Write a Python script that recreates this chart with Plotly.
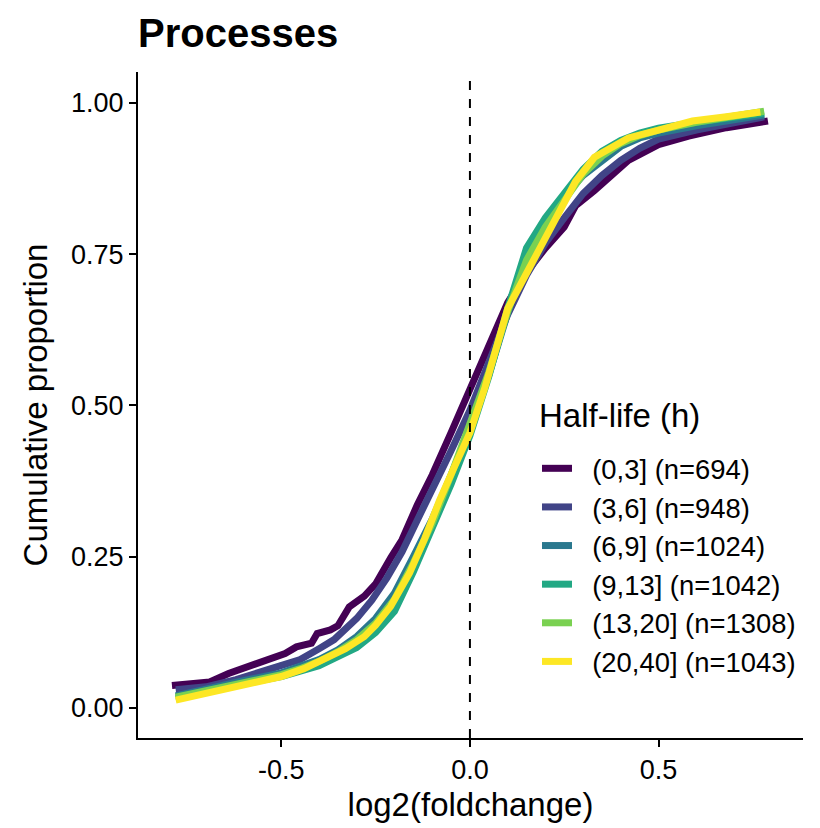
import plotly.graph_objects as go

x_0_3 = [-0.79, -0.69, -0.64, -0.55, -0.49, -0.46, -0.42, -0.405, -0.37, -0.35, -0.32, -0.28, -0.25, -0.21,
         -0.18, -0.14, -0.1, -0.05, 0.0, 0.02, 0.06, 0.1, 0.15, 0.2, 0.25, 0.28, 0.33, 0.37, 0.42, 0.5,
         0.58, 0.68, 0.79]
y_0_3 = [0.037, 0.043, 0.057, 0.077, 0.090, 0.101, 0.107, 0.123, 0.129, 0.136, 0.167, 0.185, 0.205, 0.248,
         0.278, 0.335, 0.385, 0.455, 0.525, 0.560, 0.615, 0.670, 0.720, 0.760, 0.795, 0.830, 0.855, 0.878,
         0.905, 0.931, 0.945, 0.959, 0.970]

x_3_6 = [-0.78, -0.7, -0.62, -0.55, -0.5, -0.45, -0.4, -0.36, -0.3, -0.26, -0.22, -0.18, -0.14, -0.1,
         -0.05, 0.0, 0.05, 0.1, 0.15, 0.2, 0.25, 0.3, 0.35, 0.4, 0.45, 0.5, 0.6, 0.7, 0.78]
y_3_6 = [0.030, 0.035, 0.047, 0.060, 0.068, 0.080, 0.098, 0.113, 0.148, 0.178, 0.215, 0.258, 0.310, 0.360,
         0.425, 0.492, 0.572, 0.650, 0.715, 0.768, 0.810, 0.850, 0.880, 0.905, 0.925, 0.940, 0.955, 0.966,
         0.977]

x_6_9 = [-0.78, -0.7, -0.6, -0.5, -0.45, -0.4, -0.35, -0.3, -0.25, -0.2, -0.15, -0.1, -0.05, 0.0,
         0.05, 0.1, 0.15, 0.2, 0.25, 0.3, 0.35, 0.4, 0.45, 0.5, 0.6, 0.7, 0.78]
y_6_9 = [0.020, 0.030, 0.045, 0.058, 0.068, 0.080, 0.096, 0.118, 0.148, 0.190, 0.250, 0.312, 0.385, 0.462,
         0.550, 0.655, 0.755, 0.805, 0.845, 0.880, 0.905, 0.928, 0.942, 0.950, 0.962, 0.972, 0.980]

x_9_13 = [-0.78, -0.7, -0.6, -0.5, -0.45, -0.4, -0.35, -0.3, -0.25, -0.2, -0.15, -0.1, -0.05, 0.0,
          0.05, 0.1, 0.15, 0.2, 0.25, 0.3, 0.35, 0.4, 0.45, 0.5, 0.6, 0.7, 0.78]
y_9_13 = [0.015, 0.027, 0.040, 0.052, 0.060, 0.070, 0.085, 0.100, 0.125, 0.160, 0.225, 0.295, 0.370, 0.450,
          0.548, 0.660, 0.760, 0.810, 0.850, 0.890, 0.920, 0.938, 0.950, 0.958, 0.968, 0.976, 0.983]

x_13_20 = [-0.78, -0.7, -0.6, -0.5, -0.45, -0.4, -0.35, -0.3, -0.25, -0.2, -0.15, -0.1, -0.05, 0.0,
           0.05, 0.1, 0.15, 0.2, 0.25, 0.3, 0.35, 0.4, 0.45, 0.5, 0.6, 0.7, 0.78]
y_13_20 = [0.018, 0.028, 0.043, 0.055, 0.065, 0.077, 0.093, 0.113, 0.140, 0.180, 0.240, 0.305, 0.385, 0.468,
           0.555, 0.655, 0.740, 0.795, 0.840, 0.882, 0.912, 0.933, 0.946, 0.955, 0.968, 0.977, 0.986]

x_20_40 = [-0.78, -0.7, -0.64, -0.57, -0.5, -0.44, -0.37, -0.33, -0.28, -0.25, -0.21, -0.16, -0.12, -0.08,
           -0.04, 0.0, 0.04, 0.074, 0.1, 0.16, 0.22, 0.28, 0.33, 0.37, 0.42, 0.5, 0.59, 0.68, 0.77]
y_20_40 = [0.013, 0.024, 0.035, 0.043, 0.052, 0.065, 0.085, 0.098, 0.118, 0.137, 0.168, 0.223, 0.280, 0.344,
           0.400, 0.455, 0.530, 0.600, 0.660, 0.730, 0.800, 0.870, 0.910, 0.925, 0.942, 0.955, 0.970, 0.977,
           0.985]

legend_title = "Half-life (h)"
series_names = ["(0,3] (n=694)", "(3,6] (n=948)", "(6,9] (n=1024)", "(9,13] (n=1042)",
                "(13,20] (n=1308)", "(20,40] (n=1043)"]
series_x = [x_0_3, x_3_6, x_6_9, x_9_13, x_13_20, x_20_40]
series_y = [y_0_3, y_3_6, y_6_9, y_9_13, y_13_20, y_20_40]
colors = ["#440154", "#414487", "#2A788E", "#22A884", "#7AD151", "#FDE725"]

x_tickvals = [-0.5, 0.0, 0.5]
x_ticktext = ["-0.5", "0.0", "0.5"]
y_tickvals = [0.0, 0.25, 0.5, 0.75, 1.0]
y_ticktext = ["0.00", "0.25", "0.50", "0.75", "1.00"]

FONT = "Liberation Sans, Arial, sans-serif"
NBSP = "\u00a0"

fig = go.Figure()
for name, xv, yv, col in zip(series_names, series_x, series_y, colors):
    fig.add_trace(go.Scatter(x=xv, y=yv, mode="lines", name=NBSP * 2 + name,
                             line=dict(color=col, width=7)))

fig.add_shape(type="line", x0=0, x1=0, y0=0, y1=1, xref="x", yref="paper",
              line=dict(color="black", width=2, dash="dash"))

fig.add_annotation(text=legend_title, x=(537 - 138) / 665, y=(738 - 415) / 666,
                   xref="paper", yref="paper", xanchor="left", yanchor="middle",
                   showarrow=False, font=dict(size=33, family=FONT, color="black"))

fig.update_layout(
    width=820, height=828,
    margin=dict(l=138, r=17, t=72, b=90),
    plot_bgcolor="white", paper_bgcolor="white",
    font=dict(family=FONT, color="black", size=27),
    title=dict(text="<b>Processes</b>", x=138 / 820, xref="container", xanchor="left",
               y=1 - 33 / 828, yanchor="middle", font=dict(size=40, family=FONT, color="black")),
    legend=dict(x=(537 - 138) / 665, y=(738 - 444) / 666,
                xanchor="left", yanchor="top", font=dict(size=27.4), itemwidth=30,
                bgcolor="rgba(0,0,0,0)"),
    showlegend=True,
)
fig.update_xaxes(range=[-0.88, 0.883], tickvals=x_tickvals, ticktext=x_ticktext,
                 showline=True, linecolor="black", linewidth=2, ticks="outside", ticklen=7,
                 tickwidth=2, tickcolor="black", showgrid=False, zeroline=False,
                 title=dict(text="log2(foldchange)", font=dict(size=33), standoff=8),
                 tickfont=dict(size=27))
fig.update_yaxes(range=[-0.0496, 1.051], tickvals=y_tickvals, ticktext=y_ticktext,
                 showline=True, linecolor="black", linewidth=2, ticks="outside", ticklen=7,
                 tickwidth=2, tickcolor="black", showgrid=False, zeroline=False,
                 title=dict(text="Cumulative proportion", font=dict(size=33), standoff=13),
                 tickfont=dict(size=27))

fig.write_html("out.html")
